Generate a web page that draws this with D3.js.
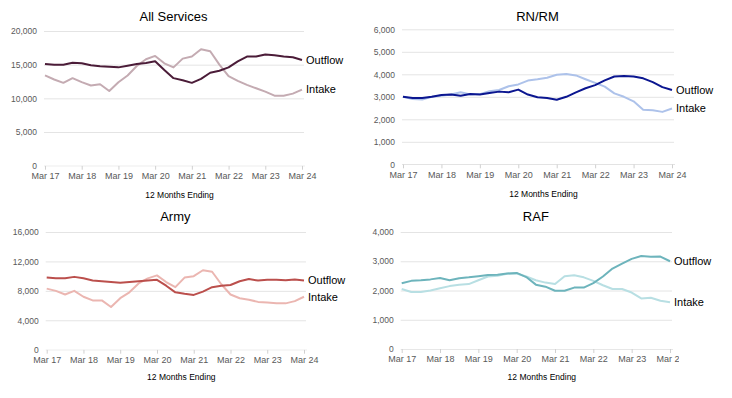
<!DOCTYPE html>
<html>
<head>
<meta charset="utf-8">
<script src="https://cdn.jsdelivr.net/npm/d3@7"></script>
<style>
  body { margin: 0; background: #fff; }
  svg { display: block; font-family: "Liberation Sans", Arial, sans-serif; }
</style>
</head>
<body>
<svg id="chart" width="732" height="398"></svg>
<script>
// Quarterly 12-months-ending series, Mar 17 .. Mar 24
const quarters = [
  "Mar 17", "Jun 17", "Sep 17", "Dec 17",
  "Mar 18", "Jun 18", "Sep 18", "Dec 18",
  "Mar 19", "Jun 19", "Sep 19", "Dec 19",
  "Mar 20", "Jun 20", "Sep 20", "Dec 20",
  "Mar 21", "Jun 21", "Sep 21", "Dec 21",
  "Mar 22", "Jun 22", "Sep 22", "Dec 22",
  "Mar 23", "Jun 23", "Sep 23", "Dec 23",
  "Mar 24"
];

const allOutflow = [15100, 15000, 15000, 15300, 15200, 14900, 14750, 14700, 14600, 14850, 15100, 15250, 15500,
  14200, 13000, 12700, 12300, 12900, 13800, 14100, 14600, 15500, 16200, 16200, 16500, 16400, 16200, 16100, 15700];
const allIntake = [13400, 12800, 12300, 13000, 12400, 11900, 12100, 11100, 12400, 13400, 14800, 15800, 16300,
  15200, 14600, 15900, 16200, 17300, 17000, 15000, 13300, 12600, 12000, 11500, 11000, 10400, 10400, 10700, 11300];

const rnOutflow = [3000, 2950, 2950, 3000, 3080, 3100, 3050, 3120, 3100, 3170, 3230, 3200, 3320,
  3100, 2980, 2950, 2870, 3000, 3200, 3380, 3520, 3730, 3900, 3920, 3900, 3820, 3650, 3430, 3300];
const rnIntake = [3000, 2900, 2880, 3000, 3050, 3100, 3200, 3100, 3120, 3250, 3300, 3470, 3550,
  3720, 3780, 3850, 3980, 4010, 3950, 3780, 3620, 3450, 3150, 3000, 2800, 2420, 2400, 2330, 2480];

const armyOutflow = [9800, 9700, 9700, 9900, 9700, 9400, 9300, 9200, 9100, 9200, 9300, 9400, 9500,
  8700, 7800, 7600, 7450, 7900, 8500, 8700, 8800, 9300, 9600, 9400, 9500, 9500, 9450, 9550, 9400];
const armyIntake = [8300, 8000, 7500, 8000, 7200, 6700, 6700, 5800, 7000, 7800, 9000, 9700, 10100,
  9200, 8500, 9800, 10000, 10800, 10600, 8900, 7500, 7000, 6800, 6500, 6400, 6300, 6300, 6600, 7200];

const rafOutflow = [2250, 2330, 2350, 2380, 2430, 2350, 2420, 2450, 2490, 2530, 2540, 2580, 2600,
  2460, 2200, 2130, 1990, 1990, 2100, 2100, 2250, 2480, 2750, 2920, 3080, 3180, 3150, 3160, 3000];
const rafIntake = [2050, 1950, 1950, 2000, 2080, 2150, 2200, 2220, 2350, 2480, 2500, 2570, 2580,
  2480, 2350, 2270, 2220, 2490, 2520, 2450, 2330, 2180, 2050, 2050, 1930, 1730, 1750, 1650, 1600];

const yTicksAll = [0, 5000, 10000, 15000, 20000];
const yTicksRn = [0, 1000, 2000, 3000, 4000, 5000, 6000];
const yTicksArmy = [0, 4000, 8000, 12000, 16000];
const yTicksRaf = [0, 1000, 2000, 3000, 4000];

const panels = [
  { title: "All Services", outflow: allOutflow, intake: allIntake, ticks: yTicksAll,
    x0: 45, x1: 302, yTop: 31, yBot: 165.7, titleY: 21, xLabY: 198, clipX: 732,
    outColor: "#4b1c38", inColor: "#c4abb2" },
  { title: "RN/RM", outflow: rnOutflow, intake: rnIntake, ticks: yTicksRn,
    x0: 403, x1: 672, yTop: 29.3, yBot: 164.3, titleY: 21, xLabY: 197, clipX: 732,
    outColor: "#0b1690", inColor: "#adc2ea" },
  { title: "Army", outflow: armyOutflow, intake: armyIntake, ticks: yTicksArmy,
    x0: 46.7, x1: 304, yTop: 232, yBot: 349.7, titleY: 221, xLabY: 380, clipX: 732,
    outColor: "#bb4f4c", inColor: "#ebb6b1" },
  { title: "RAF", outflow: rafOutflow, intake: rafIntake, ticks: yTicksRaf,
    x0: 401.7, x1: 670, yTop: 232, yBot: 349, titleY: 221, xLabY: 380, clipX: 679,
    outColor: "#6db4bc", inColor: "#b8dfe3" }
];

const svg = d3.select('#chart');

panels.forEach((p, i) => {
  const g = svg.append('g');

  const x = d3.scalePoint().domain(quarters).range([p.x0, p.x1]);
  const y = d3.scaleLinear()
    .domain([0, d3.max(p.ticks)])
    .range([p.yBot, p.yTop]);

  // title
  g.append('text')
    .attr('x', (p.x0 + p.x1) / 2)
    .attr('y', p.titleY)
    .attr('text-anchor', 'middle')
    .attr('font-size', 13)
    .attr('fill', '#000')
    .text(p.title);

  // gridlines + y labels
  const yAxis = d3.axisLeft(y)
    .tickValues(p.ticks)
    .tickFormat(d3.format(','))
    .tickSize(-(p.x1 - p.x0 + 3))
    .tickPadding(7);
  const ya = g.append('g')
    .attr('transform', `translate(${p.x0 - 1},0)`)
    .call(yAxis);
  ya.select('.domain').remove();
  ya.selectAll('.tick line')
    .attr('stroke', '#e4e4e4')
    .attr('stroke-width', 1)
    .filter(d => d === 0).remove();
  ya.selectAll('.tick text')
    .attr('fill', '#595959')
    .attr('font-size', 8.5)
    .attr('font-family', '"Liberation Sans", Arial, sans-serif');

  // x axis, clipped at the panel edge like the original
  const clipId = 'clip' + i;
  svg.append('clipPath').attr('id', clipId)
    .append('rect').attr('x', 0).attr('y', 0).attr('width', p.clipX).attr('height', 398);

  const xAxis = d3.axisBottom(x)
    .tickValues(quarters.filter(q => q.startsWith('Mar')))
    .tickSize(4)
    .tickPadding(3);
  const xa = g.append('g')
    .attr('transform', `translate(0,${p.yBot})`)
    .attr('clip-path', `url(#${clipId})`)
    .call(xAxis);
  xa.select('.domain')
    .attr('stroke', '#d0d0d0')
    .attr('d', `M${p.x0 - 1},0H${p.x1 + 3}`);
  xa.selectAll('.tick line').attr('stroke', '#d0d0d0');
  xa.selectAll('.tick text')
    .attr('fill', '#595959')
    .attr('font-size', 9)
    .attr('font-family', '"Liberation Sans", Arial, sans-serif');

  g.append('text')
    .attr('x', (p.x0 + p.x1) / 2 + 6)
    .attr('y', p.xLabY)
    .attr('text-anchor', 'middle')
    .attr('font-size', 8.5)
    .attr('fill', '#000')
    .text('12 Months Ending');

  const line = d3.line()
    .x((d, j) => x(quarters[j]))
    .y(d => y(d));

  g.append('path')
    .datum(p.intake)
    .attr('fill', 'none')
    .attr('stroke', p.inColor)
    .attr('stroke-width', 2)
    .attr('stroke-linejoin', 'round')
    .attr('d', line);

  g.append('path')
    .datum(p.outflow)
    .attr('fill', 'none')
    .attr('stroke', p.outColor)
    .attr('stroke-width', 2)
    .attr('stroke-linejoin', 'round')
    .attr('d', line);

  // end labels
  const last = quarters[quarters.length - 1];
  [['Outflow', p.outflow], ['Intake', p.intake]].forEach(([name, vals]) => {
    g.append('text')
      .attr('x', x(last) + 4)
      .attr('y', y(vals[vals.length - 1]))
      .attr('dy', '0.35em')
      .attr('font-size', 11)
      .attr('fill', '#000')
      .text(name);
  });
});
</script>
</body>
</html>
